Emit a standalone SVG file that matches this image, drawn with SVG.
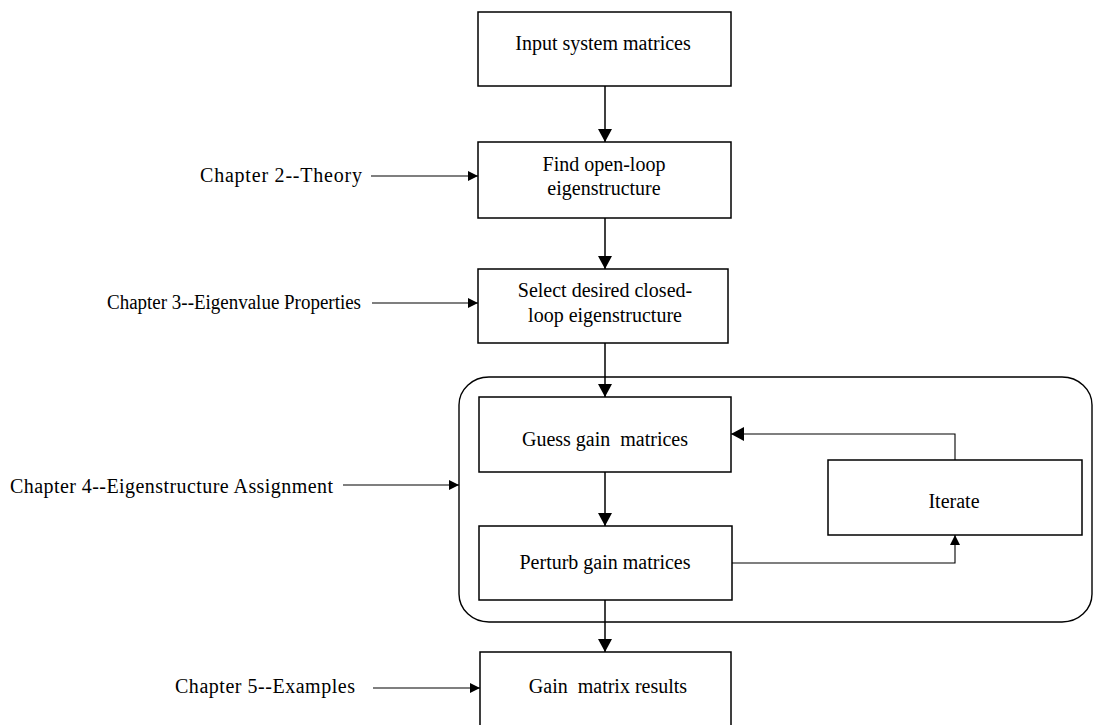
<svg xmlns="http://www.w3.org/2000/svg" width="1094" height="725" viewBox="0 0 1094 725">
<style>
  .box { fill: #fff; stroke: #000; stroke-width: 1.5; }
  .grp { fill: none; stroke: #000; stroke-width: 1.4; }
  .t { font-family: "Liberation Serif", "Times New Roman", serif; font-size: 20px; fill: #000; }
  .c { text-anchor: middle; }
  .ln { fill: none; stroke: #000; stroke-width: 1.5; }
  .ln2 { fill: none; stroke: #000; stroke-width: 1.1; }
</style>
<defs>
  <marker id="big" markerUnits="userSpaceOnUse" viewBox="0 0 13 14" markerWidth="13" markerHeight="14" refX="13" refY="7" orient="auto">
    <path d="M0,0 L13,7 L0,14 z" fill="#000"/>
  </marker>
  <marker id="small" markerUnits="userSpaceOnUse" viewBox="0 0 10 10" markerWidth="10" markerHeight="10" refX="10" refY="5" orient="auto">
    <path d="M0,0 L10,5 L0,10 z" fill="#000"/>
  </marker>
</defs>
<rect width="1094" height="725" fill="#fff"/>

<g id="assignment-group">
  <rect class="grp" x="459" y="377" width="633" height="245" rx="30" ry="28"/>
</g>

<g id="connectors">
  <path class="ln" d="M605,86 V142" marker-end="url(#big)"/>
  <path class="ln" d="M605,218 V269" marker-end="url(#big)"/>
  <path class="ln" d="M605,343 V397" marker-end="url(#big)"/>
  <path class="ln" d="M605,472 V526" marker-end="url(#big)"/>
  <path class="ln" d="M605,600 V652" marker-end="url(#big)"/>
  <path class="ln2" d="M732,563 H955 V535" marker-end="url(#small)"/>
  <path class="ln2" d="M955,460 V434 H731" marker-end="url(#big)"/>
  <path class="ln2" d="M371,176 H478" marker-end="url(#small)"/>
  <path class="ln2" d="M372,303 H478" marker-end="url(#small)"/>
  <path class="ln2" d="M343,485 H459" marker-end="url(#small)"/>
  <path class="ln2" d="M373,688 H480" marker-end="url(#small)"/>
</g>

<g id="input">
  <rect class="box" x="478" y="12" width="253" height="74"/>
  <text class="t c" x="603" y="50">Input system matrices</text>
</g>
<g id="open-loop">
  <rect class="box" x="478" y="142" width="253" height="76"/>
  <text class="t c" x="604" y="171">Find open-loop</text>
  <text class="t c" x="604" y="195">eigenstructure</text>
</g>
<g id="select">
  <rect class="box" x="478" y="269" width="250" height="74"/>
  <text class="t c" x="605" y="297">Select desired closed-</text>
  <text class="t c" x="605" y="322">loop eigenstructure</text>
</g>
<g id="guess">
  <rect class="box" x="479" y="397" width="252" height="75"/>
  <text class="t c" x="605" y="446" xml:space="preserve">Guess gain  matrices</text>
</g>
<g id="perturb">
  <rect class="box" x="479" y="526" width="253" height="74"/>
  <text class="t c" x="605" y="569">Perturb gain matrices</text>
</g>
<g id="iterate">
  <rect class="box" x="828" y="460" width="254" height="75"/>
  <text class="t c" x="954" y="508">Iterate</text>
</g>
<g id="results">
  <rect class="box" x="480" y="652" width="251" height="80"/>
  <text class="t c" x="608" y="693" xml:space="preserve">Gain  matrix results</text>
</g>

<g id="ch2">
  <text class="t" x="200" y="182" textLength="162" lengthAdjust="spacing">Chapter 2--Theory</text>
</g>
<g id="ch3">
  <text class="t" x="107" y="309" textLength="254" lengthAdjust="spacingAndGlyphs">Chapter 3--Eigenvalue Properties</text>
</g>
<g id="ch4">
  <text class="t" x="10" y="493" textLength="323" lengthAdjust="spacing">Chapter 4--Eigenstructure Assignment</text>
</g>
<g id="ch5">
  <text class="t" x="175" y="693" textLength="180" lengthAdjust="spacing">Chapter 5--Examples</text>
</g>
</svg>
